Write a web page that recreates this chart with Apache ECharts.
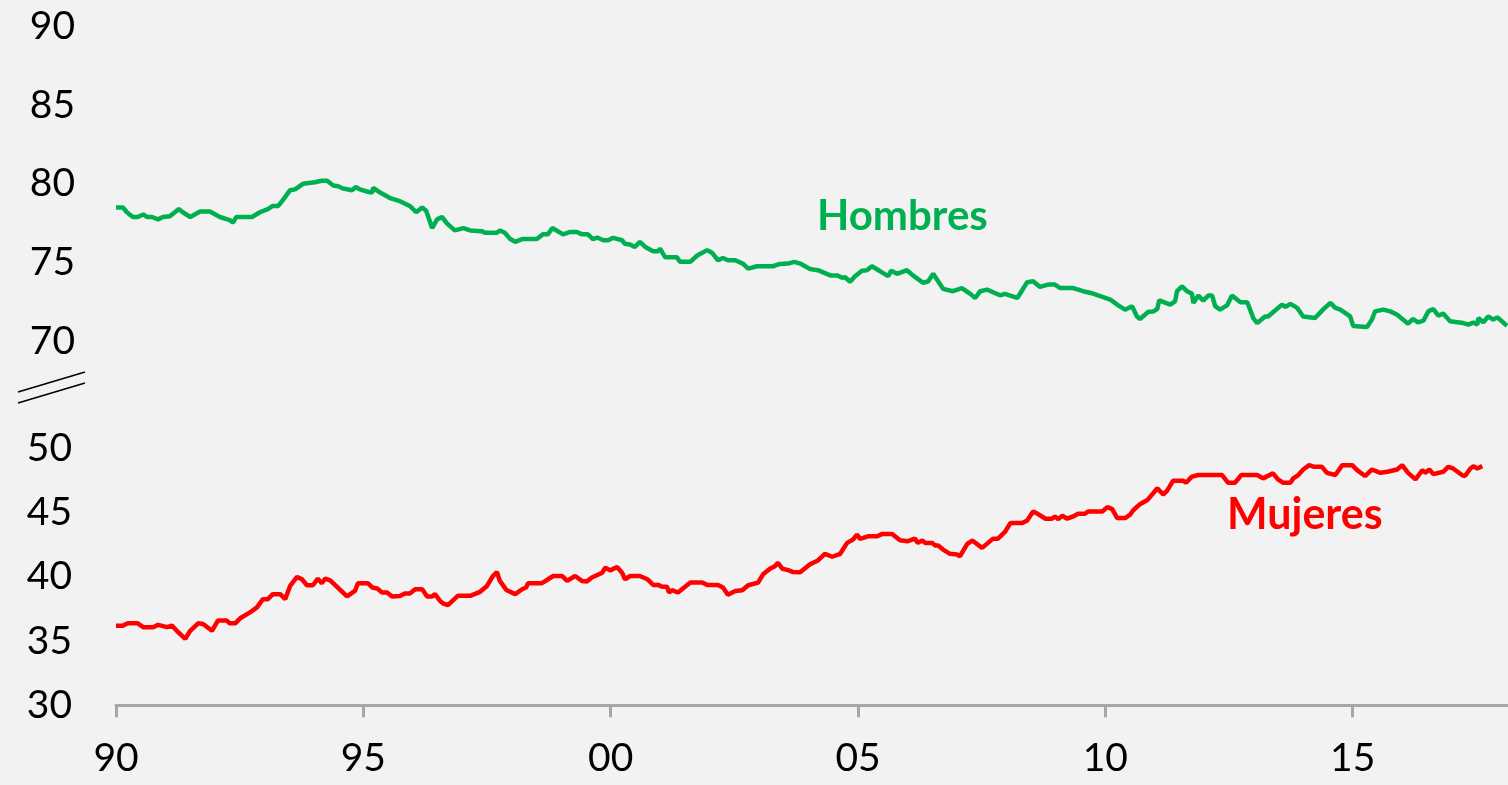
<!DOCTYPE html>
<html>
<head>
<meta charset="utf-8">
<script src="https://cdn.jsdelivr.net/npm/echarts@6/dist/echarts.min.js"></script>
<style>
  html, body { margin: 0; padding: 0; background: #f2f2f2; }
  #chart { width: 1508px; height: 785px; }
</style>
</head>
<body>
<div id="chart"></div>
<script>
// datos (anio decimal, tasa %)
var hombresYears = [1990.00,1990.14,1990.22,1990.34,1990.44,1990.55,1990.63,1990.73,1990.85,1990.95,1991.09,1991.27,1991.35,1991.50,1991.70,1991.90,1992.10,1992.30,1992.37,1992.43,1992.75,1992.91,1993.07,1993.17,1993.28,1993.38,1993.52,1993.62,1993.78,1994.02,1994.16,1994.27,1994.39,1994.49,1994.59,1994.77,1994.85,1994.93,1995.09,1995.18,1995.20,1995.34,1995.54,1995.74,1995.94,1996.07,1996.19,1996.27,1996.39,1996.49,1996.59,1996.69,1996.85,1997.02,1997.16,1997.40,1997.46,1997.70,1997.76,1997.86,1997.97,1998.07,1998.21,1998.51,1998.63,1998.73,1998.82,1999.04,1999.18,1999.32,1999.42,1999.54,1999.64,1999.73,1999.85,1999.95,2000.05,2000.23,2000.29,2000.39,2000.49,2000.59,2000.70,2000.86,2000.96,2001.00,2001.10,2001.34,2001.40,2001.61,2001.75,2001.95,2002.05,2002.17,2002.27,2002.37,2002.52,2002.68,2002.78,2002.96,2003.28,2003.42,2003.59,2003.71,2003.83,2004.03,2004.19,2004.44,2004.58,2004.68,2004.74,2004.84,2004.94,2005.08,2005.18,2005.28,2005.45,2005.61,2005.67,2005.79,2005.99,2006.11,2006.32,2006.42,2006.52,2006.62,2006.72,2006.92,2007.10,2007.27,2007.37,2007.47,2007.61,2007.87,2007.97,2008.22,2008.42,2008.54,2008.68,2008.84,2008.98,2009.09,2009.35,2009.55,2009.75,2009.94,2010.10,2010.26,2010.40,2010.54,2010.64,2010.70,2010.87,2010.97,2011.05,2011.09,2011.31,2011.41,2011.45,2011.55,2011.65,2011.75,2011.78,2011.88,2011.98,2012.08,2012.16,2012.22,2012.32,2012.46,2012.56,2012.73,2012.87,2012.99,2013.07,2013.23,2013.29,2013.57,2013.64,2013.74,2013.88,2014.00,2014.24,2014.40,2014.55,2014.65,2014.75,2014.95,2015.01,2015.29,2015.39,2015.45,2015.62,2015.76,2015.90,2016.06,2016.12,2016.22,2016.32,2016.43,2016.53,2016.63,2016.73,2016.83,2016.97,2017.23,2017.34,2017.44,2017.52,2017.54,2017.64,2017.74,2017.84,2017.92,2017.98,2018.12];
var hombresValues = [78.5,78.5,78.2,77.9,77.9,78.06,77.9,77.9,77.75,77.9,77.95,78.4,78.2,77.9,78.25,78.25,77.9,77.7,77.55,77.9,77.9,78.2,78.4,78.6,78.6,79.0,79.6,79.65,80.0,80.1,80.2,80.2,79.9,79.85,79.7,79.6,79.8,79.65,79.5,79.45,79.75,79.45,79.1,78.9,78.6,78.2,78.5,78.3,77.2,77.75,77.9,77.5,77.05,77.2,77.05,77.0,76.9,76.9,77.05,76.9,76.5,76.33,76.5,76.5,76.8,76.8,77.2,76.8,76.95,76.95,76.8,76.8,76.5,76.6,76.43,76.43,76.58,76.43,76.2,76.16,76.0,76.33,76.0,75.73,75.73,75.9,75.35,75.35,75.06,75.06,75.46,75.8,75.63,75.16,75.3,75.16,75.16,74.93,74.63,74.78,74.78,74.93,74.95,75.06,74.95,74.6,74.53,74.2,74.2,74.05,74.08,73.8,74.15,74.5,74.53,74.78,74.46,74.15,74.5,74.3,74.53,74.2,73.73,73.83,74.3,73.83,73.35,73.2,73.4,73.03,72.77,73.2,73.3,72.94,73.03,72.77,73.77,73.83,73.47,73.62,73.62,73.4,73.4,73.2,73.05,72.84,72.67,72.3,72.03,72.25,71.6,71.44,71.9,71.92,72.07,72.62,72.35,72.56,73.2,73.51,73.2,73.05,72.46,72.92,72.6,72.92,72.92,72.25,72.03,72.3,72.92,72.5,72.5,71.5,71.18,71.6,71.6,72.35,72.2,72.4,72.14,71.6,71.5,72.03,72.46,72.14,72.03,71.6,71.0,70.93,71.4,71.92,72.03,71.92,71.71,71.3,71.14,71.44,71.22,71.33,71.92,72.07,71.65,71.78,71.3,71.18,71.08,71.22,71.08,71.5,71.22,71.6,71.4,71.54,71.4,71.0];

var mujeresYears = [1990.00,1990.14,1990.24,1990.44,1990.55,1990.75,1990.85,1991.03,1991.13,1991.23,1991.40,1991.50,1991.66,1991.76,1991.94,1992.06,1992.24,1992.30,1992.41,1992.51,1992.71,1992.85,1992.97,1993.07,1993.17,1993.32,1993.42,1993.52,1993.66,1993.76,1993.86,1993.98,1994.08,1994.16,1994.23,1994.33,1994.67,1994.83,1994.89,1995.09,1995.18,1995.28,1995.38,1995.48,1995.58,1995.74,1995.84,1995.94,1996.05,1996.19,1996.29,1996.39,1996.45,1996.55,1996.61,1996.71,1996.91,1997.16,1997.36,1997.50,1997.62,1997.70,1997.76,1997.89,1998.07,1998.21,1998.29,1998.33,1998.61,1998.71,1998.84,1999.02,1999.12,1999.28,1999.42,1999.52,1999.62,1999.83,1999.89,1999.99,2000.13,2000.23,2000.29,2000.39,2000.59,2000.74,2000.86,2000.96,2001.04,2001.14,2001.18,2001.24,2001.36,2001.46,2001.61,2001.85,2001.95,2002.17,2002.27,2002.37,2002.52,2002.66,2002.78,2002.98,2003.08,2003.22,2003.32,2003.38,2003.47,2003.59,2003.69,2003.83,2004.03,2004.19,2004.33,2004.48,2004.64,2004.78,2004.90,2004.98,2005.04,2005.20,2005.39,2005.49,2005.69,2005.85,2006.01,2006.15,2006.21,2006.30,2006.36,2006.50,2006.56,2006.62,2006.72,2006.86,2007.00,2007.06,2007.21,2007.31,2007.51,2007.73,2007.83,2007.97,2008.08,2008.32,2008.42,2008.54,2008.64,2008.79,2008.92,2008.98,2009.05,2009.13,2009.23,2009.35,2009.45,2009.59,2009.65,2009.94,2010.04,2010.14,2010.24,2010.40,2010.50,2010.56,2010.70,2010.85,2010.95,2011.05,2011.17,2011.25,2011.37,2011.57,2011.63,2011.75,2011.88,2012.36,2012.48,2012.62,2012.75,2013.07,2013.19,2013.39,2013.49,2013.59,2013.74,2013.80,2013.90,2014.00,2014.12,2014.22,2014.38,2014.48,2014.65,2014.79,2014.99,2015.09,2015.25,2015.39,2015.56,2015.70,2015.90,2016.00,2016.12,2016.27,2016.41,2016.47,2016.55,2016.63,2016.83,2016.93,2017.03,2017.21,2017.27,2017.38,2017.44,2017.52,2017.62];
var mujeresValues = [36.2,36.2,36.38,36.38,36.08,36.08,36.26,36.08,36.2,35.8,35.17,35.8,36.38,36.33,35.8,36.59,36.59,36.38,36.38,36.77,37.23,37.62,38.26,38.26,38.65,38.65,38.26,39.29,39.99,39.81,39.34,39.34,39.86,39.5,39.86,39.73,38.47,38.9,39.5,39.5,39.17,39.09,38.78,38.78,38.47,38.5,38.7,38.7,39.03,39.03,38.47,38.47,38.65,38.13,37.93,37.8,38.52,38.52,38.83,39.29,40.06,40.37,39.68,38.98,38.65,39.03,39.17,39.5,39.5,39.75,40.06,40.06,39.68,40.06,39.68,39.63,39.94,40.32,40.71,40.5,40.76,40.32,39.81,40.06,40.06,39.81,39.37,39.37,39.22,39.22,38.78,38.96,38.78,39.09,39.55,39.55,39.37,39.37,39.17,38.6,38.9,38.96,39.34,39.55,40.19,40.63,40.83,41.09,40.63,40.52,40.37,40.35,40.97,41.27,41.79,41.56,41.79,42.64,42.9,43.28,42.95,43.15,43.15,43.34,43.34,42.84,42.77,42.97,42.64,42.82,42.64,42.64,42.43,42.43,42.12,41.79,41.74,41.6,42.56,42.82,42.25,42.97,42.97,43.49,44.18,44.18,44.38,45.08,44.88,44.52,44.52,44.7,44.49,44.75,44.52,44.7,44.9,44.9,45.08,45.08,45.42,45.27,44.57,44.57,44.83,45.16,45.65,45.98,46.42,46.89,46.4,46.7,47.48,47.48,47.32,47.8,47.92,47.92,47.32,47.32,47.92,47.92,47.66,48.05,47.58,47.32,47.32,47.66,47.92,48.35,48.69,48.56,48.56,48.09,47.92,48.69,48.69,48.3,47.84,48.35,48.09,48.17,48.35,48.69,48.09,47.58,48.3,48.09,48.35,47.99,48.17,48.56,48.43,47.92,47.84,48.43,48.61,48.43,48.61];

var topTicks = [70, 90];
var bottomTicks = [30, 50];
var xRange = [1990, 2020];

var chart = echarts.init(document.getElementById('chart'));

function pairs(xs, ys) {
    return xs.map(function (x, i) { return [x, ys[i]]; });
}

var labelFont = { fontFamily: 'Lato', fontSize: 39, color: '#000' };

var option = {
    backgroundColor: '#f2f2f2',
    animation: false,
    grid: [
        { left: 116, top: 26, width: 1484, height: 315.7, outerBoundsMode: 'none' },
        { left: 116, top: 448.3, width: 1484, height: 257, outerBoundsMode: 'none' }
    ],
    xAxis: [
        { gridIndex: 0, type: 'value', min: xRange[0], max: xRange[1], interval: 5, show: false },
        {
            gridIndex: 1, type: 'value', min: xRange[0], max: xRange[1], interval: 5,
            axisLine: { show: true, lineStyle: { color: '#a6a6a6', width: 3 } },
            axisTick: { show: true, length: 12, lineStyle: { color: '#a6a6a6', width: 3 } },
            splitLine: { show: false },
            axisLabel: Object.assign({
                margin: 34,
                formatter: function (v) { return String(v % 100).padStart(2, '0'); }
            }, labelFont)
        }
    ],
    yAxis: [
        {
            gridIndex: 0, type: 'value', min: topTicks[0], max: topTicks[1], interval: 5,
            axisLine: { show: false }, axisTick: { show: false }, splitLine: { show: false },
            axisLabel: Object.assign({ margin: 41 }, labelFont)
        },
        {
            gridIndex: 1, type: 'value', min: bottomTicks[0], max: bottomTicks[1], interval: 5,
            axisLine: { show: false }, axisTick: { show: false }, splitLine: { show: false },
            axisLabel: Object.assign({ margin: 44 }, labelFont)
        }
    ],
    series: [
        {
            name: 'Hombres', type: 'line', xAxisIndex: 0, yAxisIndex: 0,
            data: pairs(hombresYears, hombresValues),
            showSymbol: false, lineStyle: { color: '#00b050', width: 4.5 }
        },
        {
            name: 'Mujeres', type: 'line', xAxisIndex: 1, yAxisIndex: 1,
            data: pairs(mujeresYears, mujeresValues),
            showSymbol: false, lineStyle: { color: '#ff0000', width: 4.5 }
        }
    ],
    graphic: [
        // marcas de corte del eje
        { type: 'line', shape: { x1: 18, y1: 392, x2: 85, y2: 372 }, style: { stroke: '#000', lineWidth: 1.5 } },
        { type: 'line', shape: { x1: 18, y1: 403, x2: 85, y2: 383 }, style: { stroke: '#000', lineWidth: 1.5 } },
        {
            type: 'text', left: 817, top: 195,
            style: { text: 'Hombres', fill: '#00b050', font: 'bold 42px Lato' }
        },
        {
            type: 'text', left: 1227, top: 494,
            style: { text: 'Mujeres', fill: '#ff0000', font: 'bold 43px Lato' }
        }
    ]
};

chart.setOption(option);
</script>
</body>
</html>
